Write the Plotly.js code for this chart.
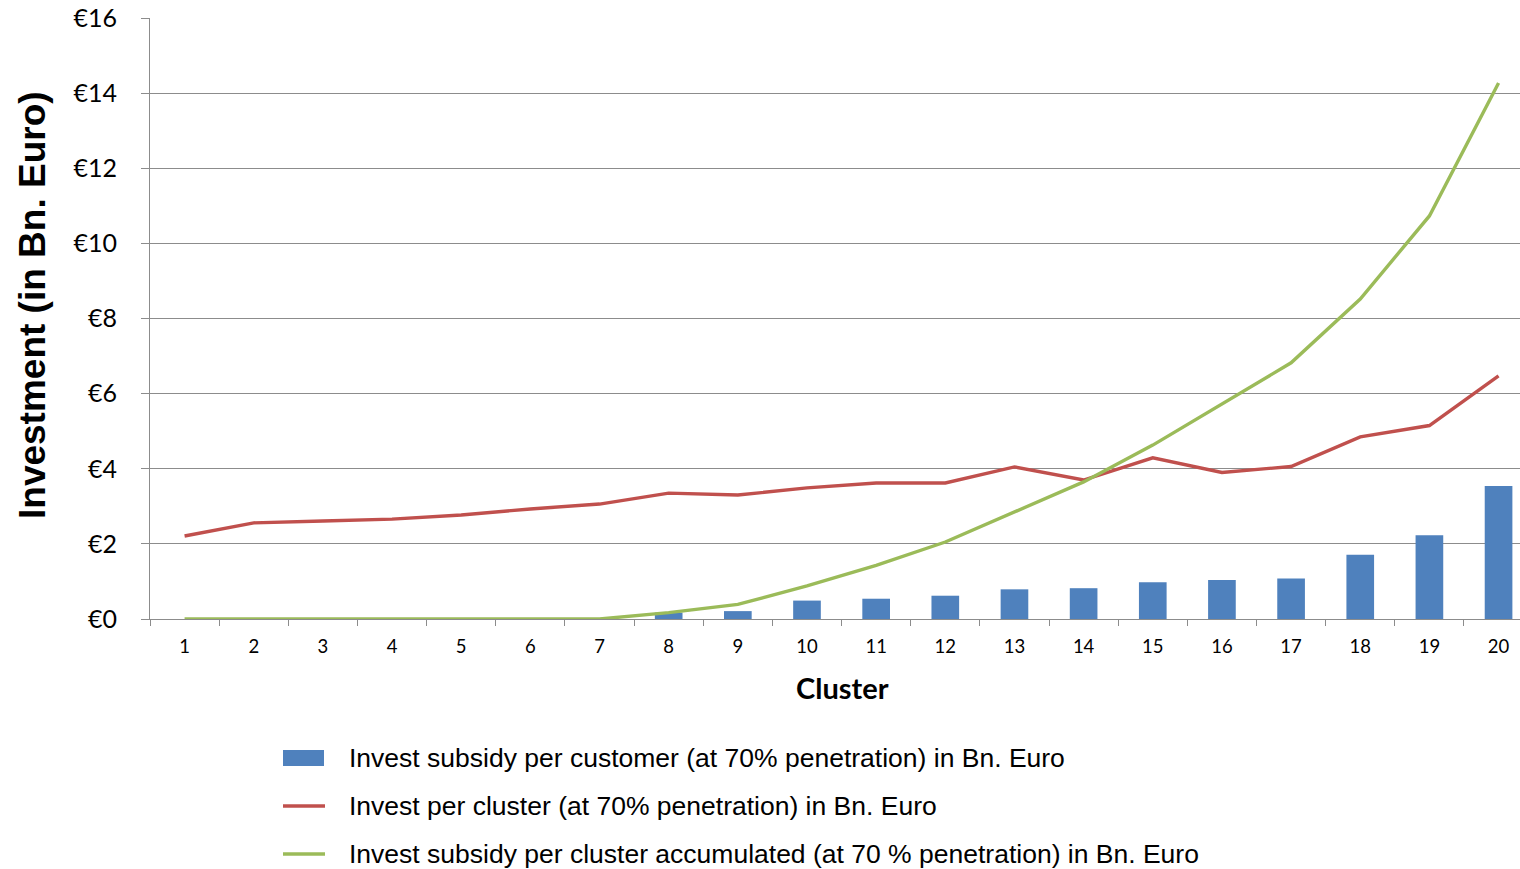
<!DOCTYPE html>
<html>
<head>
<meta charset="utf-8">
<script src="https://cdn.plot.ly/plotly-3.0.1.min.js"></script>
<style>
  html, body { margin: 0; padding: 0; background: #fff; }
  #chart { width: 1520px; height: 869px; }
</style>
</head>
<body>
<div id="chart"></div>
<script>
// Clusters on the horizontal axis
const clusters = ['1','2','3','4','5','6','7','8','9','10','11','12','13','14','15','16','17','18','19','20'];

// Invest subsidy per customer (bars), Bn. Euro
const subsidyPerCustomer = [0, 0, 0, 0, 0, 0, 0, 0.17, 0.21, 0.49, 0.54, 0.62, 0.79, 0.82, 0.98, 1.04, 1.08, 1.71, 2.23, 3.54];

// Invest per cluster (red line), Bn. Euro
const investPerCluster = [2.21, 2.56, 2.61, 2.66, 2.77, 2.93, 3.06, 3.35, 3.30, 3.49, 3.62, 3.62, 4.05, 3.70, 4.29, 3.90, 4.06, 4.85, 5.15, 6.47];

// Invest subsidy per cluster accumulated (green line), Bn. Euro
const subsidyAccumulated = [0, 0, 0, 0, 0, 0, 0, 0.17, 0.39, 0.88, 1.43, 2.05, 2.84, 3.65, 4.63, 5.72, 6.82, 8.52, 10.73, 14.27];

// Y axis ticks
const yTickVals = [0, 2, 4, 6, 8, 10, 12, 14, 16];
const yTickText = ['€0', '€2', '€4', '€6', '€8', '€10', '€12', '€14', '€16'];

// Series names
const seriesNames = [
  'Invest subsidy per customer (at 70% penetration) in Bn. Euro',
  'Invest per cluster (at 70% penetration) in Bn. Euro',
  'Invest subsidy per cluster accumulated (at 70 % penetration) in Bn. Euro'
];

const COLOR_BAR = '#4F81BD';
const COLOR_RED = '#C0504D';
const COLOR_GREEN = '#9BBB59';
const LINE_W = 3.4;

const labelFont = 'Lato, "Open Sans", "DejaVu Sans", sans-serif';
const legendFontFamily = '"Liberation Sans", Arial, sans-serif';

// plot box in page pixels (matches the margins below)
const M = { l: 150, r: 0, t: 18, b: 250 };
const W = 1520, H = 869;
const plotW = W - M.l - M.r, plotH = H - M.t - M.b;
const px = x => (x - M.l) / plotW;          // page x -> paper x
const py = y => (H - M.b - y) / plotH;      // page y -> paper y

const traces = [
  {
    type: 'bar',
    x: clusters,
    y: subsidyPerCustomer,
    name: seriesNames[0],
    marker: { color: COLOR_BAR },
    hoverinfo: 'x+y'
  },
  {
    type: 'scatter',
    mode: 'lines',
    x: clusters,
    y: investPerCluster,
    name: seriesNames[1],
    line: { color: COLOR_RED, width: LINE_W }
  },
  {
    type: 'scatter',
    mode: 'lines',
    x: clusters,
    y: subsidyAccumulated,
    name: seriesNames[2],
    line: { color: COLOR_GREEN, width: LINE_W }
  }
];

// Legend below the plot: key marks and labels
const legendRows = [758, 806, 854];
const keyX0 = 283, keyX1 = 325, labelX = 347;

const legendShapes = [
  {
    type: 'rect', xref: 'paper', yref: 'paper',
    x0: px(keyX0), x1: px(keyX1 - 1),
    y0: py(legendRows[0] - 8), y1: py(legendRows[0] + 8),
    fillcolor: COLOR_BAR, line: { width: 0 }
  },
  {
    type: 'line', xref: 'paper', yref: 'paper',
    x0: px(keyX0), x1: px(keyX1),
    y0: py(legendRows[1]), y1: py(legendRows[1]),
    line: { color: COLOR_RED, width: 3.5 }
  },
  {
    type: 'line', xref: 'paper', yref: 'paper',
    x0: px(keyX0), x1: px(keyX1),
    y0: py(legendRows[2]), y1: py(legendRows[2]),
    line: { color: COLOR_GREEN, width: 3.5 }
  }
];

const legendLabels = seriesNames.map((name, i) => ({
  text: name,
  xref: 'paper', yref: 'paper',
  x: px(labelX), y: py(legendRows[i]),
  xanchor: 'left', yanchor: 'middle',
  showarrow: false,
  font: { family: legendFontFamily, size: 26.5, color: '#000' }
}));

const layout = {
  width: W,
  height: H,
  margin: { l: M.l, r: M.r, t: M.t, b: M.b, autoexpand: false },
  paper_bgcolor: '#ffffff',
  plot_bgcolor: '#ffffff',
  bargap: 0.6,
  showlegend: false,
  xaxis: {
    type: 'category',
    range: [-0.5, 19.31],
    automargin: false,
    showgrid: false,
    showline: true,
    linecolor: '#8c8c8c',
    linewidth: 1,
    ticks: 'outside',
    tickson: 'boundaries',
    ticklen: 6,
    tickcolor: '#8c8c8c',
    tickfont: { family: labelFont, size: 18.5, color: '#000' },
    ticklabelstandoff: 11,
    zeroline: false
  },
  yaxis: {
    range: [0, 16],
    automargin: false,
    tickvals: yTickVals,
    ticktext: yTickText,
    showgrid: true,
    gridcolor: '#8c8c8c',
    gridwidth: 1,
    showline: true,
    linecolor: '#8c8c8c',
    linewidth: 1,
    ticks: 'outside',
    ticklen: 8,
    tickcolor: '#8c8c8c',
    tickfont: { family: labelFont, size: 25, color: '#000' },
    ticklabelstandoff: 19,
    zeroline: false
  },
  shapes: legendShapes,
  annotations: [
    {
      text: '<b>Investment (in Bn. Euro)</b>',
      xref: 'paper', yref: 'paper',
      x: px(32), y: py(305),
      xanchor: 'center', yanchor: 'middle',
      textangle: -90,
      showarrow: false,
      font: { family: legendFontFamily, size: 37, color: '#000' }
    },
    {
      text: '<b>Cluster</b>',
      xref: 'paper', yref: 'paper',
      x: px(842), y: py(688),
      xanchor: 'center', yanchor: 'middle',
      showarrow: false,
      font: { family: labelFont, size: 29, color: '#000' }
    }
  ].concat(legendLabels)
};

Plotly.newPlot('chart', traces, layout, { displayModeBar: false, staticPlot: true });
</script>
</body>
</html>
